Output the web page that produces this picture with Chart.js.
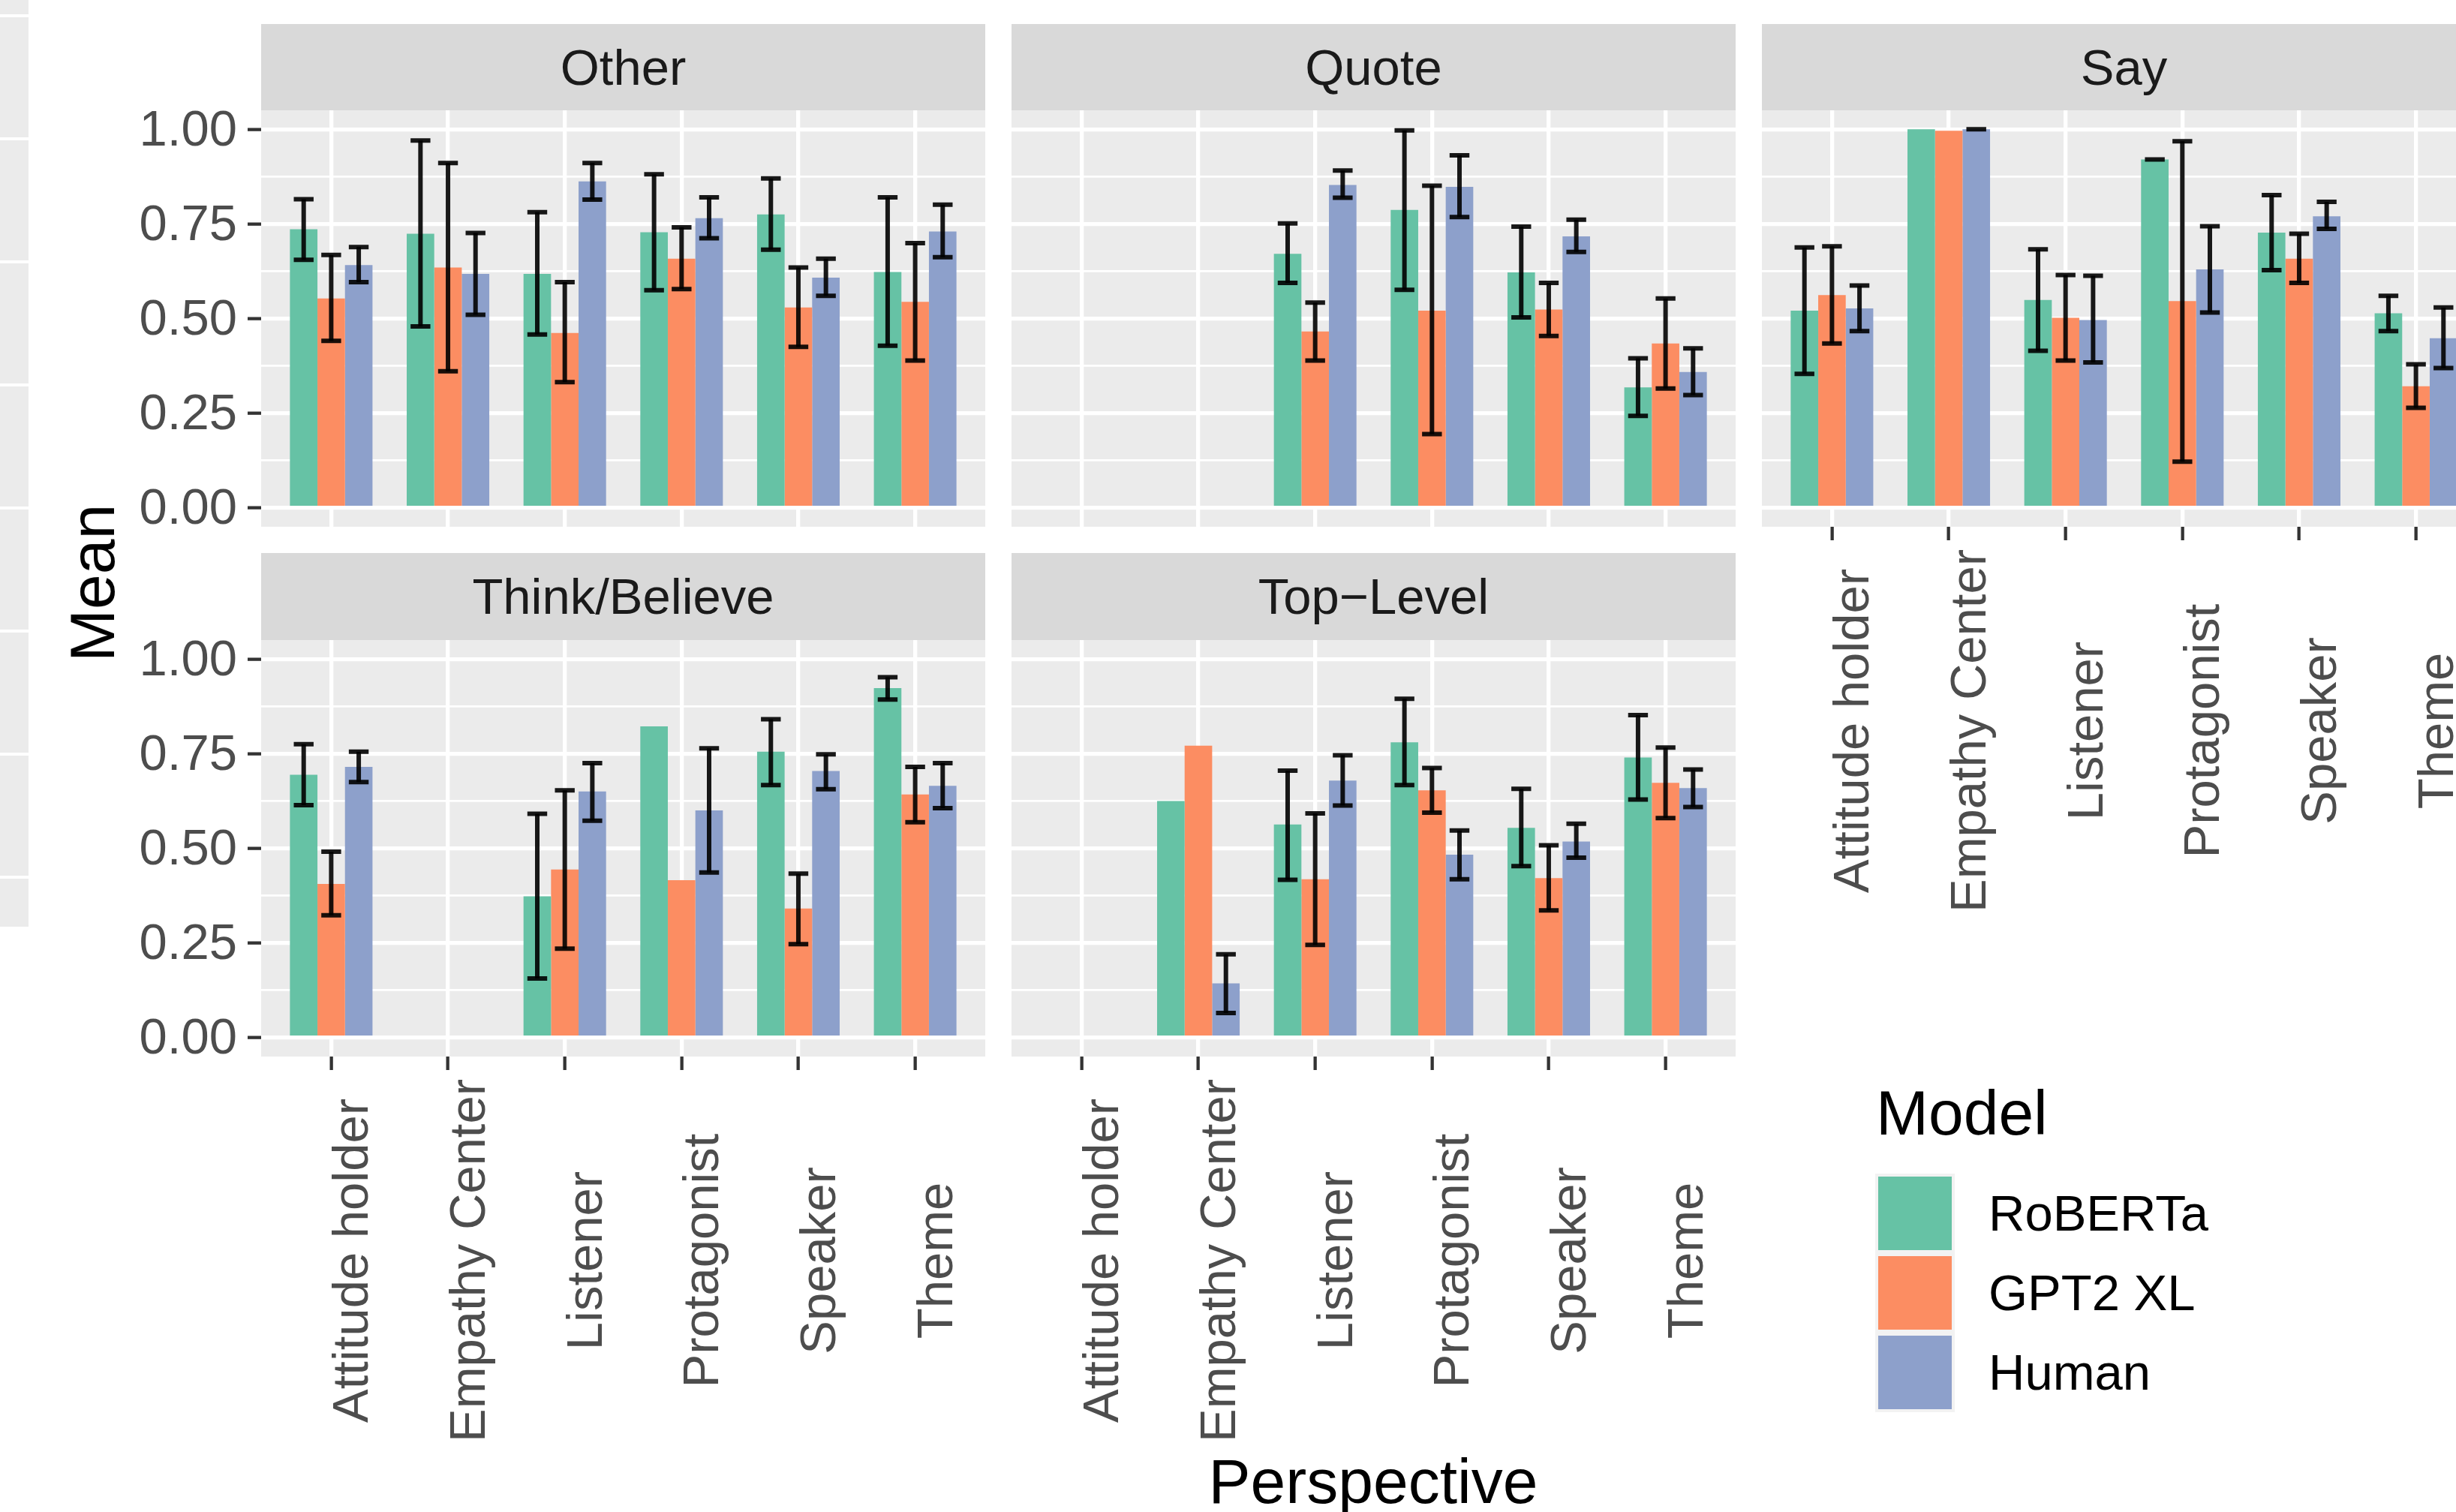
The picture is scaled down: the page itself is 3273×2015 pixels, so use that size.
<!DOCTYPE html>
<html>
<head>
<meta charset="utf-8">
<script src="https://cdn.jsdelivr.net/npm/chart.js@4.4.0/dist/chart.umd.min.js"></script>
<style>
  html, body { margin: 0; padding: 0; background: #fff; width: 3273px; height: 2015px; overflow: hidden; position: relative; font-family: "Liberation Sans", Arial, sans-serif; }
  canvas { position: absolute; }
  .strip { position: absolute; background: #d9d9d9; color: #1a1a1a; font-size: 67px; text-align: center; white-space: nowrap; }
  .title { position: absolute; color: #000; font-size: 84px; line-height: 84px; white-space: nowrap; }
  .key { position: absolute; width: 98px; height: 98px; }
  .keylab { position: absolute; font-size: 67px; color: #000; height: 106px; line-height: 106px; white-space: nowrap; }
  .edge { position: absolute; left: 0; width: 38px; background: #ebebeb; }
</style>
</head>
<body>
<script>
const categories = ["Attitude holder", "Empathy Center", "Listener", "Protagonist", "Speaker", "Theme"];
const models = ["RoBERTa", "GPT2 XL", "Human"];
const modelColors = ["#66c2a5", "#fc8d62", "#8da0cb"];

// rows: RoBERTa, GPT2 XL, Human
const otherMean = [
  [0.736, 0.724, 0.618, 0.728, 0.775, 0.623],
  [0.553, 0.635, 0.462, 0.658, 0.529, 0.544],
  [0.641, 0.618, 0.862, 0.765, 0.608, 0.730]
];
const otherLow = [
  [0.655, 0.479, 0.458, 0.575, 0.682, 0.428],
  [0.441, 0.361, 0.332, 0.578, 0.425, 0.389],
  [0.596, 0.510, 0.814, 0.712, 0.560, 0.662]
];
const otherHigh = [
  [0.815, 0.970, 0.781, 0.881, 0.870, 0.820],
  [0.668, 0.911, 0.596, 0.741, 0.635, 0.699],
  [0.689, 0.726, 0.911, 0.820, 0.658, 0.801]
];

const quoteMean = [
  [null, null, 0.671, 0.787, 0.622, 0.318],
  [null, null, 0.466, 0.521, 0.524, 0.434],
  [null, null, 0.853, 0.848, 0.717, 0.359]
];
const quoteLow = [
  [null, null, 0.594, 0.576, 0.503, 0.243],
  [null, null, 0.389, 0.195, 0.454, 0.315],
  [null, null, 0.819, 0.768, 0.676, 0.298]
];
const quoteHigh = [
  [null, null, 0.751, 0.997, 0.743, 0.395],
  [null, null, 0.542, 0.851, 0.594, 0.553],
  [null, null, 0.891, 0.931, 0.761, 0.421]
];

const sayMean = [
  [0.521, 1.000, 0.549, 0.920, 0.727, 0.514],
  [0.562, 0.996, 0.502, 0.546, 0.658, 0.321],
  [0.527, 1.000, 0.496, 0.630, 0.770, 0.448]
];
const sayLow = [
  [0.354, null, 0.415, 0.920, 0.628, 0.467],
  [0.434, null, 0.389, 0.122, 0.594, 0.264],
  [0.467, 1.000, 0.384, 0.516, 0.737, 0.369]
];
const sayHigh = [
  [0.688, null, 0.683, 0.920, 0.826, 0.560],
  [0.691, null, 0.615, 0.968, 0.724, 0.379],
  [0.587, 1.000, 0.613, 0.744, 0.808, 0.529]
];

const thinkMean = [
  [0.694, null, 0.373, 0.822, 0.755, 0.923],
  [0.406, null, 0.444, 0.416, 0.341, 0.642],
  [0.715, null, 0.650, 0.600, 0.704, 0.665]
];
const thinkLow = [
  [0.614, null, 0.156, null, 0.667, 0.893],
  [0.323, null, 0.235, null, 0.247, 0.569],
  [0.675, null, 0.573, 0.436, 0.656, 0.606]
];
const thinkHigh = [
  [0.775, null, 0.591, null, 0.841, 0.952],
  [0.491, null, 0.653, null, 0.433, 0.715],
  [0.755, null, 0.725, 0.764, 0.748, 0.725]
];

const topMean = [
  [null, 0.625, 0.563, 0.780, 0.554, 0.740],
  [null, 0.771, 0.418, 0.653, 0.421, 0.673],
  [null, 0.143, 0.679, 0.483, 0.518, 0.659]
];
const topLow = [
  [null, null, 0.417, 0.667, 0.453, 0.629],
  [null, null, 0.245, 0.594, 0.336, 0.580],
  [null, 0.065, 0.613, 0.418, 0.475, 0.609]
];
const topHigh = [
  [null, null, 0.705, 0.895, 0.657, 0.852],
  [null, null, 0.592, 0.712, 0.508, 0.766],
  [null, 0.220, 0.746, 0.547, 0.565, 0.708]
];

Chart.defaults.font.family = '"Liberation Sans", Arial, sans-serif';

const PLOT_H = 555;
const LABEL_SPACE = 560;

const isMajor = v => Math.abs(v * 4 - Math.round(v * 4)) < 1e-6;

// grey panel background under the grid
const panelBg = {
  id: 'panelBg',
  beforeDraw(chart) {
    const a = chart.chartArea, ctx = chart.ctx;
    ctx.save();
    ctx.fillStyle = '#ebebeb';
    ctx.fillRect(a.left, a.top, a.right - a.left, a.bottom - a.top);
    ctx.restore();
  }
};

// error bars centred on each bar
const errorBars = {
  id: 'errorBars',
  afterDatasetsDraw(chart) {
    const ctx = chart.ctx, ys = chart.scales.y;
    ctx.save();
    ctx.strokeStyle = 'rgba(0,0,0,0.9)';
    ctx.lineWidth = 6;
    ctx.lineCap = 'butt';
    chart.data.datasets.forEach((ds, d) => {
      chart.getDatasetMeta(d).data.forEach((bar, i) => {
        const lo = ds.errLow[i], hi = ds.errHigh[i];
        if (lo == null || hi == null) return;
        const half = bar.width * 0.36;
        const y1 = ys.getPixelForValue(lo), y2 = ys.getPixelForValue(hi);
        ctx.beginPath();
        ctx.moveTo(bar.x, y1); ctx.lineTo(bar.x, y2);
        ctx.stroke();
        ctx.beginPath();
        ctx.moveTo(bar.x - half, y1); ctx.lineTo(bar.x + half, y1);
        ctx.moveTo(bar.x - half, y2); ctx.lineTo(bar.x + half, y2);
        ctx.stroke();
      });
    });
    ctx.restore();
  }
};

// rotated category labels under the bottom panels
const xLabels = {
  id: 'xLabels',
  afterDraw(chart, args, opts) {
    if (!opts.show) return;
    const ctx = chart.ctx, xs = chart.scales.x;
    ctx.save();
    ctx.font = '67px "Liberation Sans", Arial, sans-serif';
    ctx.fillStyle = '#4d4d4d';
    ctx.textAlign = 'center';
    ctx.textBaseline = 'alphabetic';
    categories.forEach((c, i) => {
      ctx.save();
      ctx.translate(xs.getPixelForValue(i) + 49, chart.chartArea.bottom + 272);
      ctx.rotate(-Math.PI / 2);
      ctx.fillText(c, 0, 0);
      ctx.restore();
    });
    ctx.restore();
  }
};

function addStrip(text, left, top, width, height) {
  const div = document.createElement('div');
  div.className = 'strip';
  div.style.left = left + 'px';
  div.style.top = top + 'px';
  div.style.width = width + 'px';
  div.style.height = height + 'px';
  div.style.lineHeight = height + 'px';
  div.textContent = text;
  document.body.appendChild(div);
}

function makePanel(means, lows, highs, o) {
  const yw = o.yLabels ? 198 : 0;
  const xh = o.xLabels ? LABEL_SPACE : 0;
  const canvas = document.createElement('canvas');
  canvas.width = 965 + yw;
  canvas.height = PLOT_H + xh;
  canvas.style.left = (o.left - yw) + 'px';
  canvas.style.top = o.top + 'px';
  document.body.appendChild(canvas);

  new Chart(canvas, {
    type: 'bar',
    data: {
      datasets: models.map((m, k) => ({
        label: m,
        data: means[k].map((v, i) => ({ x: i, y: v })),
        errLow: lows[k],
        errHigh: highs[k],
        backgroundColor: modelColors[k],
        borderWidth: 0,
        categoryPercentage: 0.707,
        barPercentage: 1.0
      }))
    },
    options: {
      responsive: false,
      animation: false,
      layout: { padding: 0 },
      plugins: {
        legend: { display: false },
        tooltip: { enabled: false },
        xLabels: { show: o.xLabels }
      },
      scales: {
        x: {
          type: 'linear',
          min: -0.6,
          max: 5.6,
          offset: false,
          border: { display: false },
          grid: {
            offset: false,
            color: '#ffffff',
            lineWidth: 5.3,
            drawTicks: o.xLabels,
            tickLength: 18,
            tickColor: '#333333',
            tickWidth: 4.3
          },
          ticks: { stepSize: 1, includeBounds: false, display: false, autoSkip: false },
          afterFit: s => { s.height = xh; s.paddingLeft = 0; s.paddingRight = 0; }
        },
        y: {
          min: -0.05,
          max: 1.05,
          border: { display: false },
          grid: {
            color: '#ffffff',
            lineWidth: c => (c.tick && isMajor(c.tick.value)) ? 5.3 : 2.7,
            drawTicks: o.yLabels,
            tickLength: 18,
            tickColor: c => (c.tick && isMajor(c.tick.value)) ? '#333333' : 'rgba(0,0,0,0)',
            tickWidth: 4.3
          },
          ticks: {
            display: o.yLabels,
            stepSize: 0.125,
            includeBounds: false,
            autoSkip: false,
            padding: 14,
            labelOffset: 3,
            color: '#4d4d4d',
            font: { size: 67 },
            callback: v => isMajor(v) ? v.toFixed(2) : ''
          },
          afterFit: s => { s.width = yw; s.paddingTop = 0; s.paddingBottom = 0; }
        }
      }
    },
    plugins: [panelBg, errorBars, xLabels]
  });
}

// leftover sliver of a neighbouring panel at the left edge
const edge = document.createElement('div');
edge.className = 'edge';
edge.style.top = '0px';
edge.style.height = '1235px';
document.body.appendChild(edge);
[21, 185, 349, 513, 677, 841, 1005, 1169].forEach(y => {
  const line = document.createElement('div');
  line.style.cssText = 'position:absolute;left:0;width:38px;height:4px;background:#fff;top:' + (y - 2) + 'px';
  document.body.appendChild(line);
});

const colLeft = [348, 1348, 2348];
const rowStrip = [32, 737];
const rowTop = [147, 853];

addStrip('Other', colLeft[0], rowStrip[0], 965, 115);
addStrip('Quote', colLeft[1], rowStrip[0], 965, 115);
addStrip('Say', colLeft[2], rowStrip[0], 965, 115);
addStrip('Think/Believe', colLeft[0], rowStrip[1], 965, 116);
addStrip('Top\u2212Level', colLeft[1], rowStrip[1], 965, 116);

makePanel(otherMean, otherLow, otherHigh, { left: colLeft[0], top: rowTop[0], yLabels: true, xLabels: false });
makePanel(quoteMean, quoteLow, quoteHigh, { left: colLeft[1], top: rowTop[0], yLabels: false, xLabels: false });
makePanel(sayMean, sayLow, sayHigh, { left: colLeft[2], top: rowTop[0], yLabels: false, xLabels: true });
makePanel(thinkMean, thinkLow, thinkHigh, { left: colLeft[0], top: rowTop[1], yLabels: true, xLabels: true });
makePanel(topMean, topLow, topHigh, { left: colLeft[1], top: rowTop[1], yLabels: false, xLabels: true });

// axis titles
const yTitle = document.createElement('div');
yTitle.className = 'title';
yTitle.textContent = 'Mean';
yTitle.style.left = '123px';
yTitle.style.top = '777px';
yTitle.style.transform = 'translate(-50%, -50%) rotate(-90deg)';
document.body.appendChild(yTitle);

const xTitle = document.createElement('div');
xTitle.className = 'title';
xTitle.textContent = 'Perspective';
xTitle.style.left = '1330px';
xTitle.style.width = '1000px';
xTitle.style.textAlign = 'center';
xTitle.style.top = '1932px';
document.body.appendChild(xTitle);

// legend
const legTitle = document.createElement('div');
legTitle.className = 'title';
legTitle.textContent = 'Model';
legTitle.style.left = '2500px';
legTitle.style.top = '1441px';
document.body.appendChild(legTitle);

const keyBg = document.createElement('div');
keyBg.style.cssText = 'position:absolute;left:2499px;top:1564px;width:106px;height:318px;background:#f2f2f2;';
document.body.appendChild(keyBg);

models.forEach((m, k) => {
  const key = document.createElement('div');
  key.className = 'key';
  key.style.left = '2503px';
  key.style.top = (1568 + k * 106) + 'px';
  key.style.background = modelColors[k];
  document.body.appendChild(key);

  const lab = document.createElement('div');
  lab.className = 'keylab';
  lab.textContent = m;
  lab.style.left = '2650px';
  lab.style.top = (1564 + k * 106) + 'px';
  document.body.appendChild(lab);
});
</script>
</body>
</html>
